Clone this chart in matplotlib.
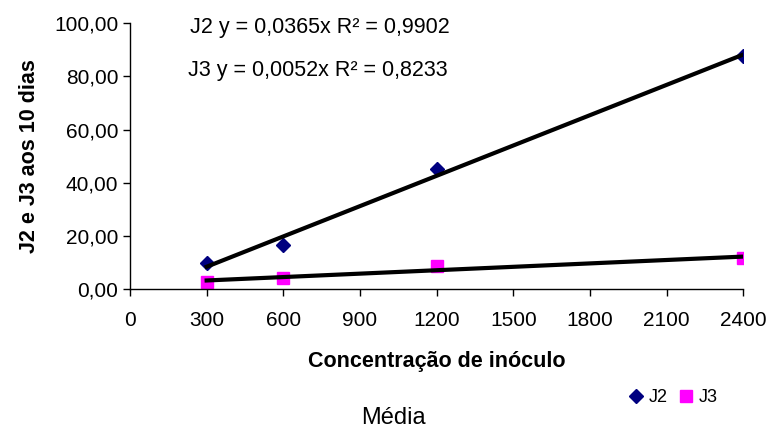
import numpy as np
import matplotlib.pyplot as plt
from matplotlib.ticker import FuncFormatter

plt.rcParams['font.family'] = ['Liberation Sans', 'DejaVu Sans']

# inoculum concentration and mean counts after 10 days
conc = [300, 600, 1200, 2400]
j2 = [9.6, 16.5, 45.3, 87.5]
j3 = [2.6, 4.0, 8.8, 11.5]

x_ticks = [0, 300, 600, 900, 1200, 1500, 1800, 2100, 2400]
y_ticks = [0, 20, 40, 60, 80, 100]

eq_j2 = "J2 y = 0,0365x R² = 0,9902"
eq_j3 = "J3 y = 0,0052x R² = 0,8233"


def comma_fmt(v, pos):
    return f"{v:.2f}".replace(".", ",")


fig = plt.figure(figsize=(7.71, 4.30), dpi=100)
ax = fig.add_axes([0.1686, 0.328, 0.7954, 0.618])

x = np.array(conc, dtype=float)
for vals, marker, color, ms, label in [(j2, 'D', '#000080', 6.8, 'J2'),
                                       (j3, 's', '#ff00ff', 8.5, 'J3')]:
    y = np.array(vals)
    coef = np.polyfit(x, y, 1)
    xs = np.array([x.min(), x.max()])
    ax.plot(xs, np.polyval(coef, xs), color='black', lw=3, zorder=3)
    ax.plot(x, y, linestyle='none', marker=marker, color=color,
            markersize=ms, label=label, zorder=2)

ax.set_xlim(0, 2400)
ax.set_ylim(0, 100)
ax.set_xticks(x_ticks)
ax.set_yticks(y_ticks)
ax.yaxis.set_major_formatter(FuncFormatter(comma_fmt))
ax.tick_params(labelsize=15, length=5, width=1, direction='out')
ax.tick_params(axis='x', pad=11)
for side in ['top', 'right']:
    ax.spines[side].set_visible(False)
for side in ['left', 'bottom']:
    ax.spines[side].set_linewidth(1)

ax.set_xlabel("Concentração de inóculo", fontsize=15.5, fontweight='bold',
              labelpad=15)
ax.set_ylabel("J2 e J3 aos 10 dias", fontsize=15.5, fontweight='bold',
              labelpad=10)

fig.text(190 / 771, 1 - 27 / 430, eq_j2, fontsize=15.5, va='center')
fig.text(188 / 771, 1 - 70 / 430, eq_j3, fontsize=15.5, va='center')

fig.legend(loc='center', bbox_to_anchor=(673 / 771, 1 - 398 / 430),
           ncol=2, frameon=False, fontsize=13, handlelength=0.8,
           handletextpad=0.3, columnspacing=0.6, borderpad=0)

fig.text(393 / 771, 1 - 418 / 430, "Média", fontsize=17, ha='center',
         va='center')

fig.savefig("out.png", dpi=100)
